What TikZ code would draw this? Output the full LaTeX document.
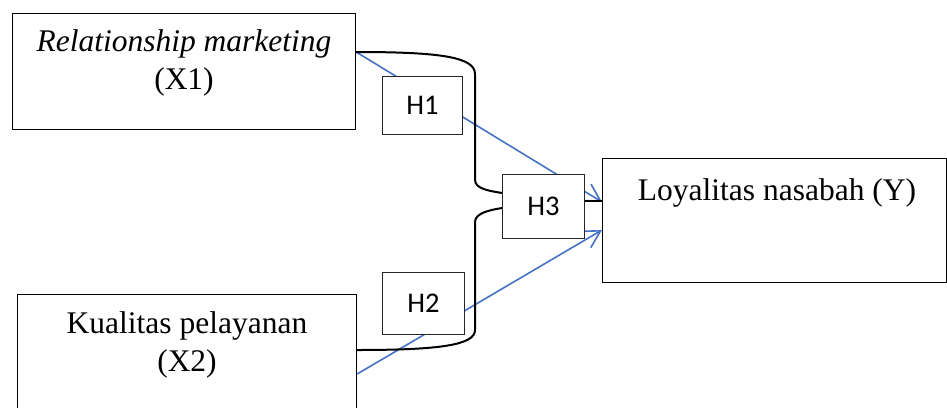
\documentclass[tikz,border=0pt]{standalone}
\usepackage{fontspec}
\setmainfont{Liberation Serif}
\newfontfamily\hypfont{Carlito}
\usetikzlibrary{arrows.meta,backgrounds}
\definecolor{linkblue}{RGB}{68,114,196}
\begin{document}
\begin{tikzpicture}[x=1pt,y=-1pt,
  varbox/.style={draw=black, line width=1.2pt, fill=white, inner sep=0pt,
    anchor=north west},
  hypbox/.style={draw=black!85, line width=1.1pt, fill=white, inner sep=0pt,
    anchor=north west, font=\hypfont\fontsize{28.5}{32}\selectfont},
  vartext/.style={font=\fontsize{31.5}{37.5}\selectfont, align=center,
    inner sep=0pt, anchor=base},
  link/.style={draw=linkblue, line width=1.6pt,
    -{Straight Barb[length=17pt,width=19pt,line width=1.6pt]}},
  bracket/.style={draw=black, line width=2pt}]
\clip (0,0) rectangle (947,407);

% variable boxes
\node[varbox, minimum width=343pt, minimum height=116pt] (x1box) at (12,13) {};
\node[varbox, minimum width=339pt, minimum height=130pt] (x2box) at (17,294) {};
\node[varbox, minimum width=344pt, minimum height=124pt] (ybox) at (602,158) {};

% texts (a multi-line node sits on the baseline of its last line)
\node[vartext] (x1text) at (184,89) {\textit{Relationship marketing}\\(X1)};
\node[vartext] (x2text) at (187,371) {Kualitas pelayanan\\(X2)};
\node[vartext] (ytext) at (777,200) {Loyalitas nasabah (Y)};

% hypothesis boxes
\node[hypbox, minimum width=80pt, minimum height=58pt] (h1) at (382,76) {H1};
\node[hypbox, minimum width=82pt, minimum height=62pt] (h2) at (382,272) {H2};
\node[hypbox, minimum width=82pt, minimum height=64pt] (h3) at (502,174) {H3};

\begin{scope}[on background layer]
  % direct effects
  \draw[link] ([yshift=-39pt]x1box.north east) -- ([yshift=-44pt]ybox.north west);
  \draw[link] ([yshift=-80pt]x2box.north east) -- ([yshift=-72pt]ybox.north west);
  % joint effect bracket
  \draw[bracket] ([yshift=-39pt]x1box.north east)
    .. controls (440,52) and (475,57) .. (475,74) -- (475,180)
    .. controls (475,189) and (490,191) .. ([yshift=-19pt]h3.north west);
  \draw[bracket] ([yshift=-56pt]x2box.north east)
    .. controls (440,350) and (475,345) .. (475,330) -- (475,222)
    .. controls (475,213) and (490,210) .. ([yshift=-34pt]h3.north west);
  \draw[black, line width=1.6pt] ([yshift=-27pt]h3.north east) -- ([yshift=-43pt]ybox.north west);
\end{scope}
\end{tikzpicture}
\end{document}
